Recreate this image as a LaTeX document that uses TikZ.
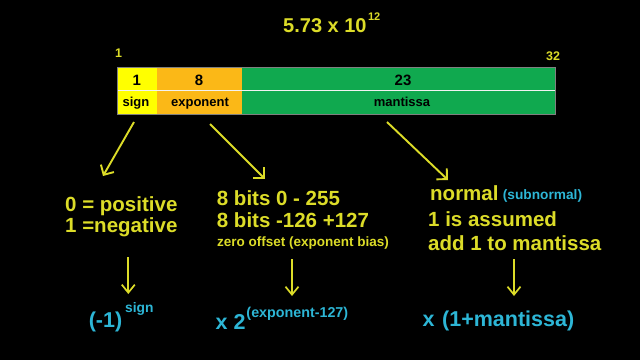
\documentclass[tikz,border=0pt]{standalone}
\usepackage{fontspec}
\setmainfont{Liberation Sans}
\usetikzlibrary{arrows.meta}
\definecolor{txty}{HTML}{DCDC28}
\definecolor{cyn}{HTML}{2DB6D6}
\definecolor{barY}{HTML}{FFFF00}
\definecolor{barO}{HTML}{FBB817}
\definecolor{barG}{HTML}{10A94F}
\newcommand\fsz[1]{\fontsize{#1}{#1}\selectfont\bfseries}
\begin{document}
\begin{tikzpicture}[x=1pt,y=-1pt,
  txt/.style={anchor=base west, inner sep=0, text=txty, font=\fsz{20.5}},
  small/.style={anchor=base west, inner sep=0, text=txty, font=\fsz{13.5}},
  formula/.style={anchor=base west, inner sep=0, text=cyn, font=\fsz{21.5}},
  cell/.style={draw=none, inner sep=0, anchor=north west, minimum height=46.6pt},
  celltxt/.style={anchor=base, inner sep=0, text=black},
  diag/.style={draw=txty, line width=1.9pt, -{Straight Barb[length=7.5pt,width=15pt,line width=1.9pt]}},
  down/.style={draw=txty, line width=1.7pt, -{Straight Barb[length=8pt,width=13pt,line width=1.7pt]}}]
\fill[black] (0,0) rectangle (640,360);
\useasboundingbox (0,0) rectangle (640,360);

% title
\node[anchor=base west, inner sep=0, text=txty, font=\fsz{20}] (title) at (283,32)
  {5.73 x 10\hspace{1.5pt}\raisebox{12pt}{\fsz{11}12}};

% bit positions
\node[anchor=base west, inner sep=0, text=txty, font=\fsz{12.5}] (pos1) at (115,57.3) {1};
\node[anchor=base west, inner sep=0, text=txty, font=\fsz{12.5}] (pos32) at (546,60) {32};

% bar
\node[cell, fill=barY, minimum width=39.4pt] (signcell) at (117.3,67.7) {};
\node[cell, fill=barO, minimum width=85pt] (expcell) at (156.7,67.7) {};
\node[cell, fill=barG, minimum width=313.3pt] (mantcell) at (241.7,67.7) {};
\draw[white!90!gray, line width=1.5pt] (signcell.west |- 0,90.7) coordinate (divL) -- (mantcell.east |- 0,90.7) coordinate (divR);
\draw[gray, line width=0.8pt] (signcell.north west) rectangle (mantcell.south east);

\node[celltxt, font=\fsz{15}] (n1) at (136.7,85) {1};
\node[celltxt, font=\fsz{15}] (n8) at (199,85) {8};
\node[celltxt, font=\fsz{15}] (n23) at (403,85) {23};
\node[celltxt, font=\fsz{13}] (lsign) at (136,106) {sign};
\node[celltxt, font=\fsz{13}] (lexp) at (200,106) {exponent};
\node[celltxt, font=\fsz{13}] (lmant) at (402,106) {mantissa};

% diagonal arrows
\coordinate (d1s) at (134,122); \coordinate (d1e) at (103,176);
\coordinate (d2s) at (210,124); \coordinate (d2e) at (265,179);
\coordinate (d3s) at (387,122); \coordinate (d3e) at (448,180);
\draw[diag] (d1s) -- (d1e);
\draw[diag] (d2s) -- (d2e);
\draw[diag] (d3s) -- (d3e);

% left column
\node[txt] (pos) at (65,211) {0 = positive};
\node[txt] (neg) at (65,232.5) {1 =negative};

% middle column
\node[txt] (bits1) at (216.7,205.5) {8 bits 0 - 255};
\node[txt] (bits2) at (216.7,227.8) {8 bits -126 +127};
\node[small] (bias) at (217,246.7) {zero offset (exponent bias)};

% right column
\node[txt] (normal) at (430,200.7) {normal};
\node[anchor=base west, inner sep=0, text=cyn, font=\fsz{13.7}] (subn) at (502.7,199) {(subnormal)};
\node[txt] (assumed) at (428,226.7) {1 is assumed};
\node[txt] (add) at (428,250) {add 1 to mantissa};

% down arrows
\coordinate (v1s) at (128.3,257); \coordinate (v1e) at (128.3,294);
\coordinate (v2s) at (292,259); \coordinate (v2e) at (292,296);
\coordinate (v3s) at (514,259); \coordinate (v3e) at (514,296);
\draw[down] (v1s) -- (v1e);
\draw[down] (v2s) -- (v2e);
\draw[down] (v3s) -- (v3e);

% formulas
\node[formula] (f1) at (88.6,327) {(-1)\hspace{3pt}\raisebox{14.5pt}{\fsz{13.8}sign}};
\node[formula] (f2) at (215.4,329) {x 2\hspace{1pt}\raisebox{11.5pt}{\fsz{14.3}(exponent-127)}};
\node[formula] (f3) at (422.5,326) {x\hspace{7.5pt}(1+mantissa)};
\end{tikzpicture}
\end{document}
